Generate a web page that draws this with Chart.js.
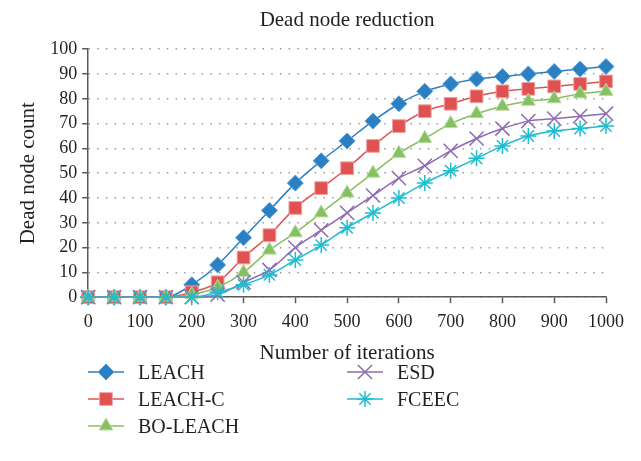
<!DOCTYPE html>
<html>
<head>
<meta charset="utf-8">
<script src="https://cdn.jsdelivr.net/npm/chart.js@4"></script>
<style>
  html, body { margin: 0; padding: 0; background: #fff; }
  #wrap { position: relative; width: 641px; height: 461px; }
  #chart { position: absolute; left: 0; top: 0; }
  .leg { position: absolute; display: flex; align-items: center; font-family: "Liberation Serif", serif; font-size: 20px; color: #231f20; }
  .leg canvas { margin-right: 14px; }
</style>
</head>
<body>
<div id="wrap">
  <canvas id="chart" width="641" height="366"></canvas>
  <div id="legend"></div>
</div>
<script>
const iterations = [0, 50, 100, 150, 200, 250, 300, 350, 400, 450, 500, 550, 600, 650, 700, 750, 800, 850, 900, 950, 1000];
const leach   = [0, 0, 0, 0, 5, 13, 24, 35, 46, 55, 63, 71, 78, 83, 86, 88, 89, 90, 91, 92, 93];
const leachC  = [0, 0, 0, 0, 2, 6, 16, 25, 36, 44, 52, 61, 69, 75, 78, 81, 83, 84, 85, 86, 87];
const boLeach = [0, 0, 0, 0, 1, 4, 10, 19, 26, 34, 42, 50, 58, 64, 70, 74, 77, 79, 80, 82, 83];
const esd     = [0, 0, 0, 0, 0, 1, 6, 11, 20, 27, 34, 41, 48, 53, 59, 64, 68, 71, 72, 73, 74];
const fceec   = [0, 0, 0, 0, 0, 2, 5, 9, 15, 21, 28, 34, 40, 46, 51, 56, 61, 65, 67, 68, 69];
const xTicks = [0, 100, 200, 300, 400, 500, 600, 700, 800, 900, 1000];
const yTicks = [0, 10, 20, 30, 40, 50, 60, 70, 80, 90, 100];

const FONT = '"Liberation Serif", serif';
const TEXT = '#231f20';
const AXIS = '#58595b';

function pts(vals) { return vals.map((v, i) => ({ x: iterations[i], y: v })); }

function series(label, vals, color, light, style, radius, order) {
  const thin = style === 'crossRot' || style === 'star';
  return {
    label: label,
    data: pts(vals),
    borderColor: color,
    backgroundColor: color,
    borderWidth: 1.5,
    pointStyle: style,
    pointRadius: radius,
    pointBackgroundColor: color,
    pointBorderColor: thin ? color : light,
    pointBorderWidth: thin ? 1.5 : 1,
    cubicInterpolationMode: 'monotone',
    clip: false,
    order: order
  };
}

const datasets = [
  series('LEACH', leach, '#2a80c2', '#5aa0d8', 'rectRot', 8, 5),
  series('LEACH-C', leachC, '#e05252', '#f2a0a0', 'rect', 9, 4),
  series('BO-LEACH', boLeach, '#86c061', '#b6dc9e', 'triangle', 8, 3),
  series('ESD', esd, '#8e6ab2', '#8e6ab2', 'crossRot', 10, 2),
  series('FCEEC', fceec, '#1fbdd0', '#1fbdd0', 'star', 8, 1)
];

new Chart(document.getElementById('chart'), {
  type: 'line',
  data: { datasets: datasets },
  options: {
    responsive: false,
    animation: false,
    layout: { padding: { left: 16, right: 35, top: 2, bottom: 0 } },
    plugins: {
      legend: { display: false },
      tooltip: { enabled: false },
      title: {
        display: true,
        fullSize: false,
        text: 'Dead node reduction',
        color: TEXT,
        font: { family: FONT, size: 21, weight: 'normal' },
        padding: { top: 6, bottom: 16 }
      }
    },
    scales: {
      x: {
        type: 'linear',
        min: 0,
        max: 1000,
        afterBuildTicks: s => { s.ticks = xTicks.map(v => ({ value: v })); },
        grid: { drawOnChartArea: false, drawTicks: true, tickLength: 6, tickColor: AXIS, tickWidth: 1.5 },
        border: { display: true, color: AXIS, width: 1.5 },
        ticks: { color: TEXT, font: { family: FONT, size: 18 }, padding: 8, maxRotation: 0, autoSkip: false, callback: v => String(v) },
        title: { display: true, text: 'Number of iterations', color: TEXT, font: { family: FONT, size: 21 }, padding: { top: 0, bottom: 0 } }
      },
      y: {
        min: 0,
        max: 100,
        afterBuildTicks: s => { s.ticks = yTicks.map(v => ({ value: v })); },
        grid: { color: '#9a9a9a', lineWidth: 1.5, tickLength: 6, tickColor: AXIS, tickWidth: 1.5 },
        border: { display: true, color: AXIS, width: 1.5, dash: [1.5, 7.2] },
        ticks: { color: TEXT, font: { family: FONT, size: 18 }, padding: 5, autoSkip: false, callback: v => String(v) },
        title: { display: true, text: 'Dead node count', color: TEXT, font: { family: FONT, size: 21 }, padding: { top: 0, bottom: 4 } }
      }
    }
  }
});

// legend laid out in two columns, symbols drawn with Chart.js point helper
const legendPos = [
  { left: 88, top: 372 }, { left: 88, top: 399 }, { left: 88, top: 426 },
  { left: 347, top: 372 }, { left: 347, top: 399 }
];
const legendBox = document.getElementById('legend');
datasets.forEach((ds, i) => {
  const item = document.createElement('div');
  item.className = 'leg';
  item.style.left = legendPos[i].left + 'px';
  item.style.top = (legendPos[i].top - 13) + 'px';
  const c = document.createElement('canvas');
  c.width = 36; c.height = 26;
  const g = c.getContext('2d');
  g.strokeStyle = ds.borderColor;
  g.lineWidth = 1.5;
  g.beginPath(); g.moveTo(0, 13); g.lineTo(36, 13); g.stroke();
  g.fillStyle = ds.pointBackgroundColor;
  g.strokeStyle = ds.pointBorderColor;
  g.lineWidth = ds.pointBorderWidth;
  Chart.helpers.drawPoint(g, { pointStyle: ds.pointStyle, radius: ds.pointRadius, rotation: 0, borderWidth: ds.pointBorderWidth }, 18, 13);
  item.appendChild(c);
  const t = document.createElement('span');
  t.textContent = ds.label;
  item.appendChild(t);
  legendBox.appendChild(item);
});
</script>
</body>
</html>
